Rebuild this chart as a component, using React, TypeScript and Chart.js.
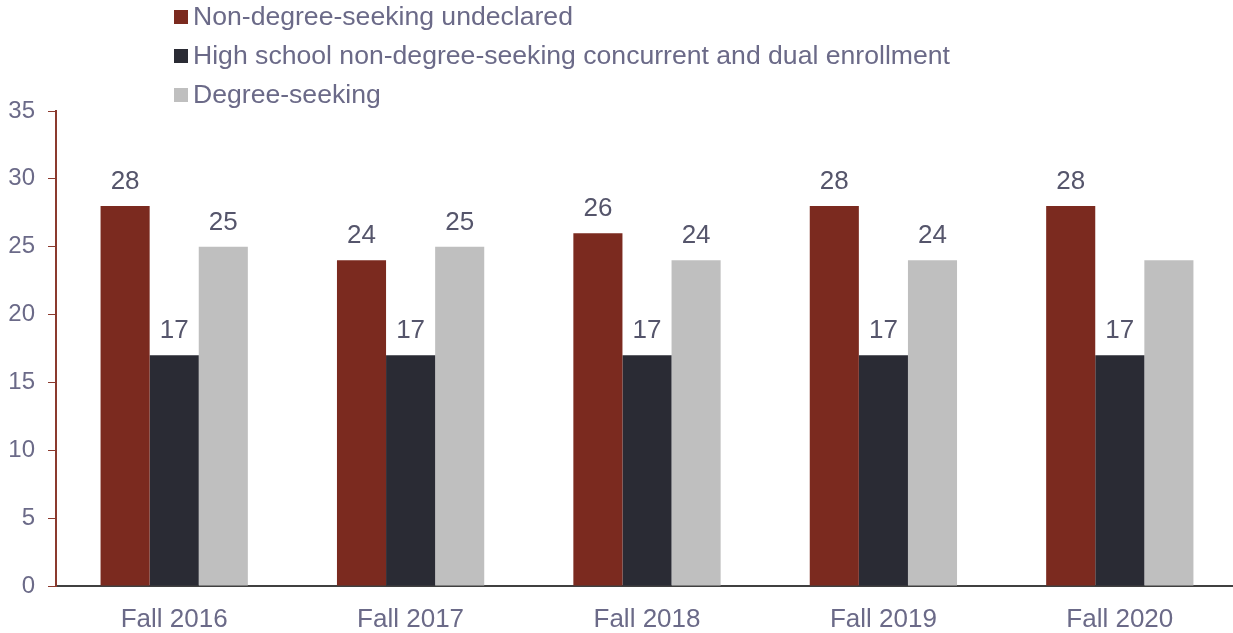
import React, { useEffect, useRef } from "react";
import { Chart, registerables } from "chart.js";

Chart.register(...registerables);

const categories = ["Fall 2016", "Fall 2017", "Fall 2018", "Fall 2019", "Fall 2020"];
const nonDegreeUndeclared = [28, 24, 26, 28, 28];
const highSchoolDual = [17, 17, 17, 17, 17];
const degreeSeeking = [25, 25, 24, 24, 24];
const nonDegreeLabels = ["28", "24", "26", "28", "28"];
const highSchoolLabels = ["17", "17", "17", "17", "17"];
const degreeLabels = ["25", "25", "24", "24", ""];
const seriesNames = [
  "Non-degree-seeking undeclared",
  "High school non-degree-seeking concurrent and dual enrollment",
  "Degree-seeking",
];
const yTicks = [0, 5, 10, 15, 20, 25, 30, 35];

const COLORS = ["#7B2A1F", "#2A2B34", "#BFBFBF"];
const TEXT = "#6B6A88";
const LABEL = "#55556B";
const FONT = "Liberation Sans, Arial, sans-serif";

export default function App() {
  const ref = useRef<HTMLCanvasElement | null>(null);
  useEffect(() => {
    document.body.style.margin = "0";
    document.body.style.overflow = "hidden";
    const labelSets = [nonDegreeLabels, highSchoolLabels, degreeLabels];
    const overlay = {
      id: "overlay",
      afterDraw(chart: any) {
        const ctx = chart.ctx;
        ctx.save();
        ctx.font = `26px ${FONT}`;
        ctx.fillStyle = LABEL;
        ctx.textAlign = "center";
        ctx.textBaseline = "middle";
        chart.data.datasets.forEach((ds: any, di: number) => {
          const meta = chart.getDatasetMeta(di);
          meta.data.forEach((bar: any, i: number) => {
            const t = labelSets[di][i];
            if (!t) return;
            ctx.fillText(t, bar.x, bar.y - 24);
          });
        });
        ctx.font = `26.6px ${FONT}`;
        ctx.textAlign = "left";
        const rowsY = [17, 56, 95];
        seriesNames.forEach((name, i) => {
          ctx.fillStyle = COLORS[i];
          ctx.fillRect(174, rowsY[i] - 7, 14, 14);
          ctx.fillStyle = TEXT;
          ctx.fillText(name, 193, rowsY[i] + 1);
        });
        ctx.restore();
      },
    };
    const chart = new Chart(ref.current!, {
      type: "bar",
      data: {
        labels: categories,
        datasets: [
          { label: seriesNames[0], data: nonDegreeUndeclared, backgroundColor: COLORS[0] },
          { label: seriesNames[1], data: highSchoolDual, backgroundColor: COLORS[1] },
          { label: seriesNames[2], data: degreeSeeking, backgroundColor: COLORS[2] },
        ],
      },
      options: {
        animation: false,
        responsive: false,
        maintainAspectRatio: false,
        datasets: { bar: { categoryPercentage: 0.623, barPercentage: 1 } },
        layout: { padding: { top: 111, left: 0, right: 2, bottom: 3 } },
        plugins: { legend: { display: false }, tooltip: { enabled: false } },
        scales: {
          x: {
            afterFit: (s: any) => {
              s.height = 44;
            },
            grid: { display: true, drawOnChartArea: false, drawTicks: false, color: "transparent" },
            border: { display: true, color: "#404040", width: 2 },
            ticks: { color: TEXT, font: { size: 26, family: FONT }, padding: 18 },
          },
          y: {
            min: 0,
            max: 35,
            afterBuildTicks: (s: any) => {
              s.ticks = yTicks.map((v) => ({ value: v }));
            },
            afterFit: (s: any) => {
              s.width = 56;
            },
            grid: { display: true, drawOnChartArea: false, drawTicks: true, tickLength: 8, color: "#8B3A2E" },
            border: { display: true, color: "#8B3A2E", width: 2 },
            ticks: { color: TEXT, font: { size: 24, family: FONT }, padding: 13 },
          },
        },
      },
      plugins: [overlay],
    });
    return () => chart.destroy();
  }, []);
  return (
    <div style={{ position: "absolute", left: 0, top: 0, width: 1233, height: 633, overflow: "hidden" }}>
      <canvas ref={ref} width={1240} height={633} style={{ width: 1240, height: 633 }} />
    </div>
  );
}
